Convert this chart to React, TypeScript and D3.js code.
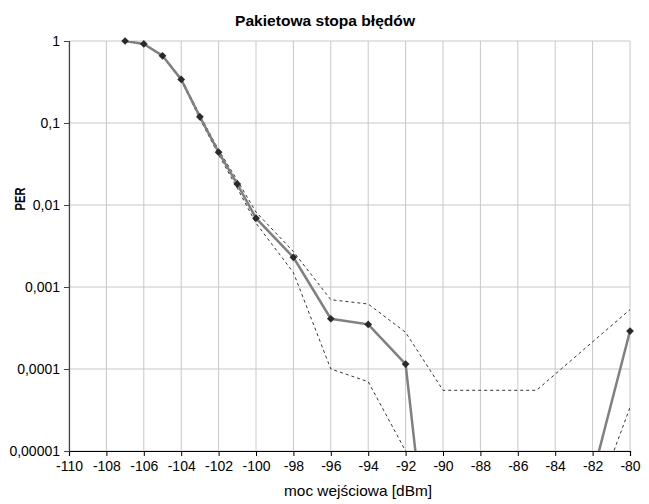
import React, { useEffect, useRef } from "react";
import * as d3 from "d3";

// moc wejściowa [dBm] and PER values
const powerMain = [-107, -106, -105, -104, -103, -102, -101, -100, -98, -96, -94, -92, -90, -82, -80];
const perMain = [1, 0.92, 0.66, 0.34, 0.119, 0.044, 0.018, 0.0069, 0.0023, 0.00041, 0.00035, 0.000115, 1e-8, 5e-6, 0.00029];

const powerUpper = [-107, -106, -105, -104, -103, -102, -101, -100, -98, -96, -94, -92, -90, -85, -80];
const perUpper = [1, 0.93, 0.67, 0.35, 0.125, 0.047, 0.02, 0.0082, 0.0027, 0.0007, 0.00062, 0.00028, 0.000055, 0.000055, 0.00053];

const powerLower = [-107, -106, -105, -104, -103, -102, -101, -100, -98, -96, -94, -92, -90, -82, -80];
const perLower = [1, 0.91, 0.65, 0.33, 0.112, 0.041, 0.016, 0.006, 0.0015, 0.0001, 0.00007, 0.00001, 1e-8, 2e-6, 0.000034];

const xTicks = [-110, -108, -106, -104, -102, -100, -98, -96, -94, -92, -90, -88, -86, -84, -82, -80];
const yTicks = [1, 0.1, 0.01, 0.001, 0.0001, 0.00001];

const title = "Pakietowa stopa błędów";
const xTitle = "moc wejściowa [dBm]";
const yTitle = "PER";

export default function App() {
  const svgRef = useRef<SVGSVGElement>(null);

  useEffect(() => {
    const svg = d3.select(svgRef.current);
    svg.selectAll("*").remove();

    const W = 649, H = 504;
    const left = 69, right = 630, top = 41, bottom = 451;
    const font = "'Liberation Sans', Arial, sans-serif";

    svg.attr("width", W).attr("height", H).style("font-family", font);

    svg.append("rect").attr("width", W).attr("height", H).attr("fill", "#fff");

    const x = d3.scaleLinear().domain([-110, -80]).range([left, right]);
    const y = d3.scaleLog().domain([0.00001, 1]).range([bottom, top]);

    // clip for the lines
    svg.append("defs").append("clipPath").attr("id", "plotClip")
      .append("rect")
      .attr("x", left).attr("y", top)
      .attr("width", right - left).attr("height", bottom - top);

    // gridlines
    const grid = svg.append("g");
    grid.selectAll(".vx")
      .data(xTicks)
      .enter()
      .append("line")
      .attr("x1", d => x(d)).attr("x2", d => x(d))
      .attr("y1", top).attr("y2", bottom)
      .attr("stroke", "#c8c8c8")
      .attr("stroke-width", 1);
    grid.selectAll(".hy")
      .data(yTicks)
      .enter()
      .append("line")
      .attr("x1", left).attr("x2", right)
      .attr("y1", d => y(d)).attr("y2", d => y(d))
      .attr("stroke", "#c8c8c8")
      .attr("stroke-width", 1);

    // axes
    const xAxis = svg.append("g")
      .attr("transform", `translate(0,${bottom})`)
      .call(d3.axisBottom(x).tickValues(xTicks).tickSize(5).tickPadding(5).tickFormat(d => String(d)));
    xAxis.select(".domain").attr("stroke", "#000").attr("stroke-width", 1.2);
    xAxis.selectAll(".tick line").attr("stroke", "#000");
    xAxis.selectAll("text")
      .style("font-family", font)
      .style("font-size", "14px")
      .attr("fill", "#000");

    const yAxis = svg.append("g")
      .attr("transform", `translate(${left},0)`)
      .call(d3.axisLeft(y).tickValues(yTicks).tickSize(5).tickPadding(4)
        .tickFormat(d => String(d).replace(".", ",")));
    yAxis.select(".domain").attr("stroke", "#444").attr("stroke-width", 1.2);
    yAxis.selectAll(".tick line").attr("stroke", "#444");
    yAxis.selectAll("text")
      .style("font-family", font)
      .style("font-size", "14px")
      .attr("fill", "#000");

    // series
    const line = d3.line<[number, number]>()
      .x(d => x(d[0]))
      .y(d => y(d[1]));

    const plot = svg.append("g").attr("clip-path", "url(#plotClip)");

    const upper = powerUpper.map((p, i) => [p, perUpper[i]] as [number, number]);
    const lower = powerLower.map((p, i) => [p, perLower[i]] as [number, number]);
    const main = powerMain.map((p, i) => [p, perMain[i]] as [number, number]);

    [upper, lower].forEach(s => {
      plot.append("path")
        .attr("d", line(s))
        .attr("fill", "none")
        .attr("stroke", "#333")
        .attr("stroke-width", 1)
        .attr("stroke-dasharray", "3,3");
    });

    plot.append("path")
      .attr("d", line(main))
      .attr("fill", "none")
      .attr("stroke", "#808080")
      .attr("stroke-width", 2.5);

    const diamond = d3.symbol().type(d3.symbolSquare).size(30);
    svg.append("g")
      .selectAll("path")
      .data(main.filter(d => d[1] >= 0.00001))
      .enter()
      .append("path")
      .attr("d", diamond())
      .attr("transform", d => `translate(${x(d[0])},${y(d[1])}) rotate(45)`)
      .attr("fill", "#2a2a2a");

    // titles
    svg.append("text")
      .attr("x", 325).attr("y", 26)
      .attr("text-anchor", "middle")
      .attr("textLength", 180)
      .attr("lengthAdjust", "spacingAndGlyphs")
      .style("font-size", "15px")
      .style("font-weight", "bold")
      .text(title);

    svg.append("text")
      .attr("x", 358).attr("y", 496)
      .attr("text-anchor", "middle")
      .attr("textLength", 148)
      .attr("lengthAdjust", "spacingAndGlyphs")
      .style("font-size", "14.5px")
      .text(xTitle);

    svg.append("text")
      .attr("transform", "translate(25,199) rotate(-90)")
      .attr("text-anchor", "middle")
      .attr("textLength", 23)
      .attr("lengthAdjust", "spacingAndGlyphs")
      .style("font-size", "14px")
      .style("font-weight", "bold")
      .text(yTitle);
  }, []);

  return (
    <div style={{ position: "absolute", left: 0, top: 0 }}>
      <svg ref={svgRef}></svg>
    </div>
  );
}
